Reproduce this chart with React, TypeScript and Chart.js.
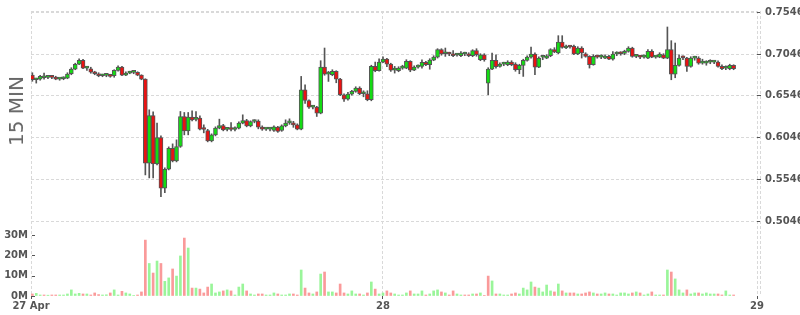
import React, { useEffect, useRef } from "react";
import { Chart, registerables } from "chart.js";

Chart.register(...registerables);

// ---- data ----
const intervalLabel = "15 MIN";
const startHour = 1.5; // first bar: 27 Apr 01:30 (hours since 27 Apr 00:00)
const barHours = 0.25; // 15-minute bars
const xAxisStart = 1.412;
const xAxisEnd = 48;
const xTickHours = [xAxisStart, 24, 48];
const xTickLabels = ["27 Apr", "28", "29"];
const priceTicks = [0.5046, 0.5546, 0.6046, 0.6546, 0.7046, 0.7546];
const priceMin = 0.41476;
const priceMax = 0.75616;
const volumeTicks = [0, 10, 20, 30]; // millions
const volumeMax = 140.2;

const open = [
  0.6794, 0.6738, 0.6746, 0.6762, 0.6766, 0.677, 0.6768, 0.6746, 0.675, 0.6758,
  0.681, 0.6866, 0.6926, 0.697, 0.6878, 0.687, 0.683, 0.681, 0.6786, 0.679,
  0.6794, 0.6786, 0.685, 0.689, 0.6794, 0.6818, 0.6826, 0.6826, 0.6794, 0.6746,
  0.5738, 0.631, 0.573, 0.6046, 0.5438, 0.5666, 0.5918, 0.5766, 0.5938, 0.6298,
  0.6126, 0.629, 0.6264, 0.6278, 0.6146, 0.613, 0.6006, 0.6078, 0.6158, 0.619,
  0.6144, 0.6146, 0.6142, 0.6158, 0.6218, 0.625, 0.6186, 0.6238, 0.6242, 0.617,
  0.6146, 0.6146, 0.613, 0.617, 0.613, 0.6186, 0.6222, 0.6222, 0.6198, 0.6146,
  0.6618, 0.649, 0.641, 0.641, 0.6338, 0.689, 0.6806, 0.6798, 0.6838, 0.6746,
  0.6558, 0.6506, 0.6566, 0.6598, 0.6638, 0.657, 0.657, 0.6498, 0.6898, 0.6846,
  0.695, 0.6986, 0.6926, 0.6854, 0.6846, 0.6878, 0.6878, 0.6958, 0.6854, 0.689,
  0.6898, 0.6946, 0.6918, 0.6974, 0.701, 0.7098, 0.705, 0.705, 0.705, 0.7034,
  0.7026, 0.7046, 0.7046, 0.7026, 0.7086, 0.6978, 0.7038, 0.6698, 0.6866, 0.697,
  0.6898, 0.6926, 0.6918, 0.695, 0.6926, 0.6858, 0.691, 0.697, 0.701, 0.7046,
  0.689, 0.7008, 0.6998, 0.7026, 0.7098, 0.7058, 0.719, 0.7118, 0.7134, 0.7138,
  0.7046, 0.7118, 0.705, 0.7018, 0.6918, 0.7014, 0.701, 0.6998, 0.7018, 0.6986,
  0.7046, 0.7054, 0.7054, 0.7078, 0.7118, 0.7018, 0.7014, 0.701, 0.6998, 0.7078,
  0.701, 0.701, 0.7038, 0.6998, 0.7098, 0.6806, 0.691, 0.7006, 0.6998, 0.6898,
  0.6998, 0.6998, 0.6938, 0.6938, 0.6948, 0.695, 0.695, 0.6898, 0.6876, 0.687,
  0.691,
];

const high = [
  0.6822, 0.6756, 0.6792, 0.6818, 0.6786, 0.678, 0.678, 0.6762, 0.6774, 0.6822,
  0.6882, 0.6936, 0.699, 0.6984, 0.6898, 0.6888, 0.684, 0.6822, 0.6804, 0.681,
  0.6804, 0.6858, 0.6906, 0.69, 0.6834, 0.684, 0.684, 0.6834, 0.6798, 0.675,
  0.6378, 0.6354, 0.6218, 0.6066, 0.5682, 0.5934, 0.597, 0.6018, 0.6358, 0.6346,
  0.6346, 0.6366, 0.6358, 0.6306, 0.6198, 0.6144, 0.609, 0.6174, 0.6266, 0.6204,
  0.6162, 0.6226, 0.6174, 0.6234, 0.6318, 0.6264, 0.6246, 0.6258, 0.6258, 0.6186,
  0.6162, 0.6168, 0.6186, 0.618, 0.6198, 0.6258, 0.627, 0.624, 0.621, 0.6778,
  0.6678, 0.6498, 0.6432, 0.642, 0.6966, 0.7118, 0.6838, 0.6858, 0.6846, 0.6756,
  0.657, 0.6588, 0.6612, 0.6654, 0.6654, 0.6606, 0.6606, 0.6912, 0.695, 0.699,
  0.7014, 0.6996, 0.6936, 0.6898, 0.6894, 0.6912, 0.6978, 0.6966, 0.6906, 0.6918,
  0.6978, 0.696, 0.699, 0.7026, 0.711, 0.711, 0.7118, 0.7068, 0.7086, 0.7056,
  0.7074, 0.7068, 0.7062, 0.7098, 0.711, 0.705, 0.705, 0.6882, 0.7058, 0.7038,
  0.6942, 0.6948, 0.6966, 0.6966, 0.6942, 0.6924, 0.6984, 0.7026, 0.713, 0.7062,
  0.7014, 0.7026, 0.7038, 0.711, 0.7122, 0.7266, 0.7266, 0.7152, 0.7146, 0.7152,
  0.7134, 0.7134, 0.7062, 0.7026, 0.7038, 0.7032, 0.7038, 0.7038, 0.7032, 0.7074,
  0.7074, 0.7074, 0.7092, 0.7134, 0.7128, 0.7038, 0.7032, 0.7038, 0.7098, 0.7098,
  0.7026, 0.7062, 0.705, 0.737, 0.7206, 0.7178, 0.7038, 0.7026, 0.7008, 0.7014,
  0.702, 0.7014, 0.6984, 0.6966, 0.6978, 0.6972, 0.6966, 0.6918, 0.6906, 0.6924,
  0.6918,
];

const low = [
  0.672, 0.6698, 0.6732, 0.6744, 0.675, 0.675, 0.6738, 0.6732, 0.6738, 0.675,
  0.6798, 0.6858, 0.6918, 0.687, 0.685, 0.6816, 0.6798, 0.6774, 0.6774, 0.6774,
  0.6768, 0.6768, 0.684, 0.6786, 0.6786, 0.681, 0.681, 0.6786, 0.6738, 0.5598,
  0.5562, 0.5562, 0.5718, 0.5338, 0.5386, 0.5658, 0.5754, 0.5754, 0.5928, 0.6078,
  0.6078, 0.6246, 0.6246, 0.6138, 0.6102, 0.5994, 0.5994, 0.6066, 0.615, 0.6126,
  0.6126, 0.6126, 0.6126, 0.615, 0.621, 0.6174, 0.6174, 0.6222, 0.615, 0.6132,
  0.6132, 0.6126, 0.612, 0.6108, 0.612, 0.6174, 0.6204, 0.6168, 0.6138, 0.6138,
  0.6456, 0.6396, 0.639, 0.6298, 0.633, 0.6792, 0.6718, 0.6786, 0.6702, 0.6546,
  0.6478, 0.6492, 0.6552, 0.6588, 0.6558, 0.6534, 0.6486, 0.6486, 0.6834, 0.684,
  0.6942, 0.6894, 0.6838, 0.6818, 0.6834, 0.6864, 0.687, 0.6834, 0.6846, 0.6876,
  0.6878, 0.6906, 0.6864, 0.6966, 0.6998, 0.7032, 0.7018, 0.7026, 0.7014, 0.702,
  0.7014, 0.7026, 0.7014, 0.7014, 0.702, 0.6966, 0.696, 0.6558, 0.6858, 0.6876,
  0.6888, 0.6906, 0.6906, 0.6906, 0.684, 0.681, 0.6778, 0.696, 0.6998, 0.6798,
  0.6882, 0.6978, 0.699, 0.7014, 0.7062, 0.705, 0.7116, 0.711, 0.7116, 0.7038,
  0.7038, 0.6998, 0.7008, 0.6878, 0.6912, 0.6996, 0.699, 0.699, 0.6978, 0.6972,
  0.7026, 0.7032, 0.7038, 0.7068, 0.7008, 0.7002, 0.699, 0.6996, 0.699, 0.7002,
  0.6996, 0.7002, 0.699, 0.699, 0.6738, 0.6762, 0.69, 0.6978, 0.6838, 0.6888,
  0.6972, 0.6924, 0.6924, 0.6912, 0.693, 0.693, 0.6888, 0.6858, 0.6858, 0.6858,
  0.6858,
];

const close = [
  0.6738, 0.6744, 0.6778, 0.6766, 0.677, 0.6766, 0.6746, 0.675, 0.6756, 0.6806,
  0.6866, 0.6922, 0.697, 0.6878, 0.6882, 0.683, 0.681, 0.6786, 0.679, 0.6794,
  0.6778, 0.685, 0.689, 0.6794, 0.6818, 0.6826, 0.6828, 0.6794, 0.6746, 0.5738,
  0.631, 0.573, 0.6046, 0.5438, 0.5666, 0.5918, 0.5766, 0.5938, 0.6298, 0.6126,
  0.629, 0.6258, 0.6276, 0.6146, 0.6142, 0.6006, 0.6078, 0.6158, 0.619, 0.6138,
  0.6146, 0.6142, 0.6158, 0.6218, 0.625, 0.6186, 0.6238, 0.6242, 0.617, 0.6146,
  0.615, 0.615, 0.6174, 0.6118, 0.6186, 0.6218, 0.6226, 0.6198, 0.6146, 0.6618,
  0.649, 0.641, 0.6414, 0.6338, 0.689, 0.6806, 0.681, 0.6838, 0.6746, 0.6558,
  0.6506, 0.6566, 0.6598, 0.6638, 0.657, 0.6574, 0.6498, 0.6898, 0.6846, 0.695,
  0.6986, 0.6926, 0.6854, 0.6858, 0.6878, 0.6882, 0.6958, 0.6854, 0.689, 0.6898,
  0.6946, 0.6918, 0.6974, 0.701, 0.7098, 0.7046, 0.7054, 0.7046, 0.7026, 0.7038,
  0.7058, 0.705, 0.7026, 0.7086, 0.7038, 0.7038, 0.6978, 0.6866, 0.697, 0.6894,
  0.6926, 0.693, 0.695, 0.6918, 0.6858, 0.691, 0.697, 0.701, 0.7046, 0.689,
  0.6998, 0.701, 0.7026, 0.7098, 0.707, 0.719, 0.7126, 0.7138, 0.713, 0.7046,
  0.7118, 0.7058, 0.7018, 0.6918, 0.7018, 0.701, 0.7014, 0.7018, 0.6986, 0.7046,
  0.705, 0.705, 0.7078, 0.7118, 0.7018, 0.702, 0.701, 0.7014, 0.7078, 0.701,
  0.7014, 0.7046, 0.6998, 0.7098, 0.6806, 0.691, 0.6998, 0.7002, 0.6898, 0.6998,
  0.7002, 0.6938, 0.6942, 0.6942, 0.695, 0.6954, 0.6898, 0.687, 0.6878, 0.691,
  0.687,
];

const volumeM = [
  1.0, 1.3, 0.5, 0.5, 0.4, 0.5, 0.5, 0.5, 0.5, 1.0,
  3.0, 1.0, 1.3, 1.0, 1.0, 0.5, 1.5, 0.7, 0.5, 0.6,
  1.5, 3.0, 0.5, 2.3, 1.5, 1.0, 0.2, 0.5, 2.0, 27.5,
  16, 11.3, 17.2, 16, 7.2, 8.9, 13.3, 9.8, 19.7, 28.5,
  23.6, 3.9, 3.9, 3.4, 1.5, 4.4, 5.9, 1.5, 2.0, 2.5,
  3.0, 2.5, 0.5, 4.4, 5.9, 2.5, 1.0, 0.5, 1.0, 1.0,
  0.5, 0.5, 1.5, 1.0, 0.5, 0.5, 1.0, 1.0, 0.5, 12.8,
  3.9, 1.5, 1.0, 2.0, 10.8, 11.8, 2.0, 2.0, 1.5, 5.9,
  1.5, 1.0, 2.5, 1.0, 1.0, 0.5, 1.5, 6.9, 3.4, 1.0,
  1.5, 2.5, 1.5, 1.0, 0.5, 0.5, 1.5, 2.5, 1.0, 1.0,
  2.5, 0.5, 1.0, 2.5, 3.0, 2.0, 1.5, 0.5, 2.5, 1.0,
  0.5, 0.5, 0.5, 1.0, 1.0, 1.5, 0.2, 9.8, 7.4, 1.0,
  1.0, 0.5, 0.5, 1.0, 1.5, 1.0, 3.9, 3.0, 6.9, 4.4,
  3.9, 2.0, 5.4, 2.5, 2.0, 5.9, 2.5, 1.5, 1.5, 1.5,
  1.0, 1.0, 1.5, 2.0, 1.5, 1.0, 1.0, 1.5, 1.0, 1.0,
  0.5, 1.5, 1.5, 1.0, 1.5, 2.0, 1.5, 0.5, 1.0, 2.0,
  0.5, 0.5, 0.5, 12.8, 11.8, 8.4, 3.0, 1.5, 3.0, 1.0,
  1.5, 1.5, 1.0, 1.5, 1.0, 1.0, 1.0, 0.5, 2.5, 0.5,
  0.5,
];

// ---- styles ----
const UP = "#14dc14";
const DOWN = "#ea1212";
const VOL_UP = "#9af59a";
const VOL_DOWN = "#fa9a9a";
const OUTLINE = "#555555";
const GRID = "#d9d9d9";
const TEXT = "#555555";
const FONT = "'DejaVu Sans', Verdana, sans-serif";
const tickFont = { family: FONT, size: 10, weight: "bold" as const };

const framePlugin = {
  id: "frame",
  beforeDatasetsDraw(chart: any) {
    const { ctx, chartArea } = chart;
    ctx.save();
    ctx.strokeStyle = GRID;
    ctx.lineWidth = 1;
    ctx.setLineDash([3, 2]);
    ctx.beginPath();
    ctx.moveTo(chartArea.left, Math.round(chartArea.top) + 0.5);
    ctx.lineTo(chartArea.right, Math.round(chartArea.top) + 0.5);
    ctx.moveTo(Math.round(chartArea.right) + 3.5, chartArea.top);
    ctx.lineTo(Math.round(chartArea.right) + 3.5, chartArea.bottom);
    ctx.stroke();
    ctx.restore();
  },
  afterDraw(chart: any) {
    const { ctx, chartArea } = chart;
    const yVol = chart.scales.yVol;
    ctx.save();
    ctx.strokeStyle = TEXT;
    ctx.lineWidth = 1;
    ctx.beginPath();
    volumeTicks.forEach((v) => {
      const y = Math.round(yVol.getPixelForValue(v)) + 0.5;
      ctx.moveTo(chartArea.left + 1, y);
      ctx.lineTo(chartArea.left + 4, y);
    });
    ctx.stroke();
    ctx.restore();
  },
};

export default function App() {
  const canvasRef = useRef<HTMLCanvasElement | null>(null);

  useEffect(() => {
    const canvas = canvasRef.current;
    if (!canvas) return;
    const times = open.map((_, i) => startHour + i * barHours);
    const bodyColors = open.map((o, i) => (close[i] >= o ? UP : DOWN));
    const volColors = close.map((c, i) =>
      c >= (i === 0 ? open[0] : close[i - 1]) ? VOL_UP : VOL_DOWN
    );

    const chart = new Chart(canvas, {
      type: "bar",
      data: {
        datasets: [
          {
            type: "bar",
            label: "body",
            xAxisID: "x",
            yAxisID: "yPrice",
            data: times.map((t, i) => ({ x: t, y: [open[i], close[i]] })) as any,
            backgroundColor: bodyColors,
            borderColor: OUTLINE,
            borderWidth: 1,
            borderSkipped: false,
            barThickness: 4,
            minBarLength: 2,
            grouped: false,
            order: 0,
          } as any,
          {
            type: "bar",
            label: "wick",
            xAxisID: "x",
            yAxisID: "yPrice",
            data: times.map((t, i) => ({ x: t, y: [low[i], high[i]] })) as any,
            backgroundColor: OUTLINE,
            borderWidth: 0,
            barThickness: 1,
            grouped: false,
            order: 1,
          } as any,
          {
            type: "bar",
            label: "volume",
            xAxisID: "x",
            yAxisID: "yVol",
            data: times.map((t, i) => ({ x: t, y: volumeM[i] })) as any,
            backgroundColor: volColors,
            borderWidth: 0,
            barThickness: 2,
            grouped: false,
            order: 2,
          } as any,
        ],
      },
      options: {
        animation: false,
        responsive: false,
        devicePixelRatio: 1,
        layout: { padding: { top: 11, left: 0, right: 0, bottom: 0 } },
        plugins: {
          legend: { display: false },
          tooltip: { enabled: false },
        },
        scales: {
          x: {
            type: "linear",
            position: "bottom",
            offset: false,
            min: xAxisStart,
            max: xAxisEnd,
            afterBuildTicks: (s: any) => {
              s.ticks = xTickHours.map((v) => ({ value: v }));
            },
            afterFit: (s: any) => {
              s.height = 19;
            },
            ticks: {
              autoSkip: false,
              maxRotation: 0,
              minRotation: 0,
              padding: 1,
              color: TEXT,
              font: tickFont,
              callback: (_v: any, i: number) => xTickLabels[i],
            },
            grid: {
              offset: false,
              color: GRID,
              lineWidth: 1,
              tickColor: TEXT,
              tickLength: 3,
            },
            border: { display: false, dash: [3, 2] },
          },
          yPrice: {
            type: "linear",
            position: "right",
            min: priceMin,
            max: priceMax,
            afterBuildTicks: (s: any) => {
              s.ticks = priceTicks.map((v) => ({ value: v }));
            },
            afterFit: (s: any) => {
              s.width = 43;
            },
            ticks: {
              padding: 4,
              color: TEXT,
              font: tickFont,
              callback: (v: any) => Number(v).toFixed(4),
            },
            grid: {
              color: GRID,
              lineWidth: 1,
              tickColor: TEXT,
              tickLength: 4,
            },
            border: { display: false, dash: [3, 2] },
          },
          yVol: {
            type: "linear",
            position: "left",
            min: 0,
            max: volumeMax,
            afterBuildTicks: (s: any) => {
              s.ticks = volumeTicks.map((v) => ({ value: v }));
            },
            afterFit: (s: any) => {
              s.width = 31;
            },
            ticks: {
              padding: 3,
              color: TEXT,
              font: tickFont,
              callback: (v: any) => `${v}M`,
            },
            grid: { drawOnChartArea: false, drawTicks: false },
            border: { display: false },
          },
        },
      } as any,
      plugins: [framePlugin],
    });

    return () => chart.destroy();
  }, []);

  return (
    <div
      style={{
        position: "fixed",
        left: 0,
        top: 0,
        width: 800,
        height: 315,
        background: "#ffffff",
        overflow: "hidden",
      }}
    >
      <canvas ref={canvasRef} width={800} height={315} style={{ width: 800, height: 315, display: "block" }} />
      <div
        style={{
          position: "absolute",
          left: 16,
          top: 111,
          transform: "translate(-50%, -50%) rotate(-90deg)",
          fontFamily: FONT,
          fontSize: 20,
          color: "#666666",
          whiteSpace: "nowrap",
          lineHeight: 1,
        }}
      >
        {intervalLabel}
      </div>
    </div>
  );
}
